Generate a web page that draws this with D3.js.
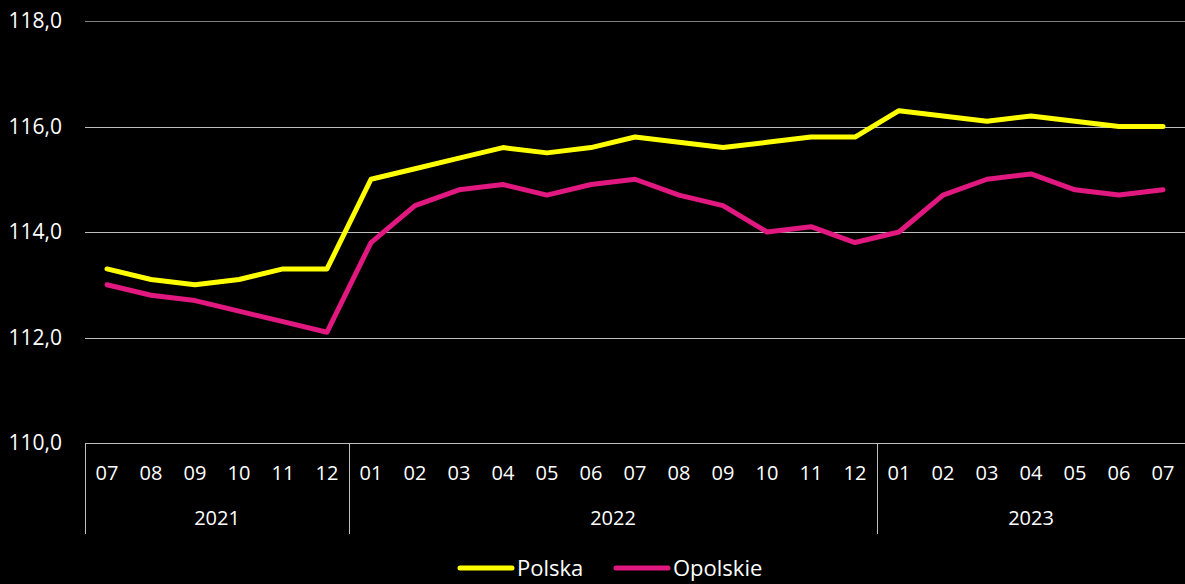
<!DOCTYPE html>
<html>
<head>
<meta charset="utf-8">
<script src="https://cdn.jsdelivr.net/npm/d3@7"></script>
<style>
  body { margin: 0; background: #000; }
  text { font-family: "Open Sans", "Noto Sans", sans-serif; fill: #fff; }
</style>
</head>
<body>
<svg id="chart" width="1185" height="584"></svg>
<script>
// dane
var months = ["07","08","09","10","11","12","01","02","03","04","05","06","07","08","09","10","11","12","01","02","03","04","05","06","07"];
var years = [
    {label: "2021", start: 0, end: 6},
    {label: "2022", start: 6, end: 18},
    {label: "2023", start: 18, end: 25}
];
var polska = [113.3,113.1,113.0,113.1,113.3,113.3,115.0,115.2,115.4,115.6,115.5,115.6,115.8,115.7,115.6,115.7,115.8,115.8,116.3,116.2,116.1,116.2,116.1,116.0,116.0];
var opolskie = [113.0,112.8,112.7,112.5,112.3,112.1,113.8,114.5,114.8,114.9,114.7,114.9,115.0,114.7,114.5,114.0,114.1,113.8,114.0,114.7,115.0,115.1,114.8,114.7,114.8];
var yTicks = [110,112,114,116,118];

var svg = d3.select("#chart");
var plotL = 85, plotR = 1185, plotT = 21, plotB = 443;

var x = d3.scaleBand()
    .domain(d3.range(months.length))
    .range([plotL, plotR]);
var y = d3.scaleLinear()
    .domain([110, 118])
    .range([plotB, plotT]);
var fmt = function(v){ return d3.format(".1f")(v).replace(".", ","); };

// siatka
svg.selectAll("line.grid")
    .data(yTicks)
    .enter().append("line")
    .attr("class", "grid")
    .attr("x1", plotL).attr("x2", plotR)
    .attr("y1", function(d){ return Math.round(y(d)) + 0.5; })
    .attr("y2", function(d){ return Math.round(y(d)) + 0.5; })
    .attr("stroke", function(d){ return d == 118 ? "#808080" : "#bfbfbf"; })
    .attr("stroke-width", 1);

svg.selectAll("text.ylab")
    .data(yTicks)
    .enter().append("text")
    .attr("class", "ylab")
    .attr("x", 62)
    .attr("y", function(d){ return y(d); })
    .attr("dy", "0.35em")
    .attr("text-anchor", "end")
    .style("font-size", "21px")
    .text(fmt);

// os x: miesiace
svg.selectAll("text.month")
    .data(months)
    .enter().append("text")
    .attr("class", "month")
    .attr("x", function(d, i){ return x(i) + x.bandwidth() / 2; })
    .attr("y", 473)
    .attr("dy", "0.35em")
    .attr("text-anchor", "middle")
    .style("font-size", "20px")
    .text(function(d){ return d; });

// lata
var bounds = [0, 6, 18];
svg.selectAll("line.sep")
    .data(bounds)
    .enter().append("line")
    .attr("class", "sep")
    .attr("x1", function(d){ return Math.round(x(d)) + 0.5; })
    .attr("x2", function(d){ return Math.round(x(d)) + 0.5; })
    .attr("y1", plotB).attr("y2", 534)
    .attr("stroke", "#bfbfbf");

svg.selectAll("text.year")
    .data(years)
    .enter().append("text")
    .attr("class", "year")
    .attr("x", function(d){ return (x(d.start) + (d.end == months.length ? plotR : x(d.end))) / 2; })
    .attr("y", 518)
    .attr("dy", "0.35em")
    .attr("text-anchor", "middle")
    .style("font-size", "20px")
    .text(function(d){ return d.label; });

// linie
var line = d3.line()
    .x(function(d, i){ return x(i) + x.bandwidth() / 2; })
    .y(function(d){ return y(d); });

var series = [
    {name: "Polska", values: polska, color: "#ffff00"},
    {name: "Opolskie", values: opolskie, color: "#e0187f"}
];

svg.selectAll("path.series")
    .data(series.slice().reverse())
    .enter().append("path")
    .attr("class", "series")
    .attr("d", function(d){ return line(d.values); })
    .attr("fill", "none")
    .attr("stroke", function(d){ return d.color; })
    .attr("stroke-width", 5)
    .attr("stroke-linejoin", "round")
    .attr("stroke-linecap", "round");

// legenda
var legX = [460, 616];
var leg = svg.selectAll("g.leg")
    .data(series)
    .enter().append("g")
    .attr("class", "leg")
    .attr("transform", function(d, i){ return "translate(" + legX[i] + ",568)"; });
leg.append("line")
    .attr("x1", 0).attr("x2", 52)
    .attr("stroke", function(d){ return d.color; })
    .attr("stroke-width", 5)
    .attr("stroke-linecap", "round");
leg.append("text")
    .attr("x", 57)
    .attr("dy", "0.35em")
    .style("font-size", "22px")
    .text(function(d){ return d.name; });
</script>
</body>
</html>
